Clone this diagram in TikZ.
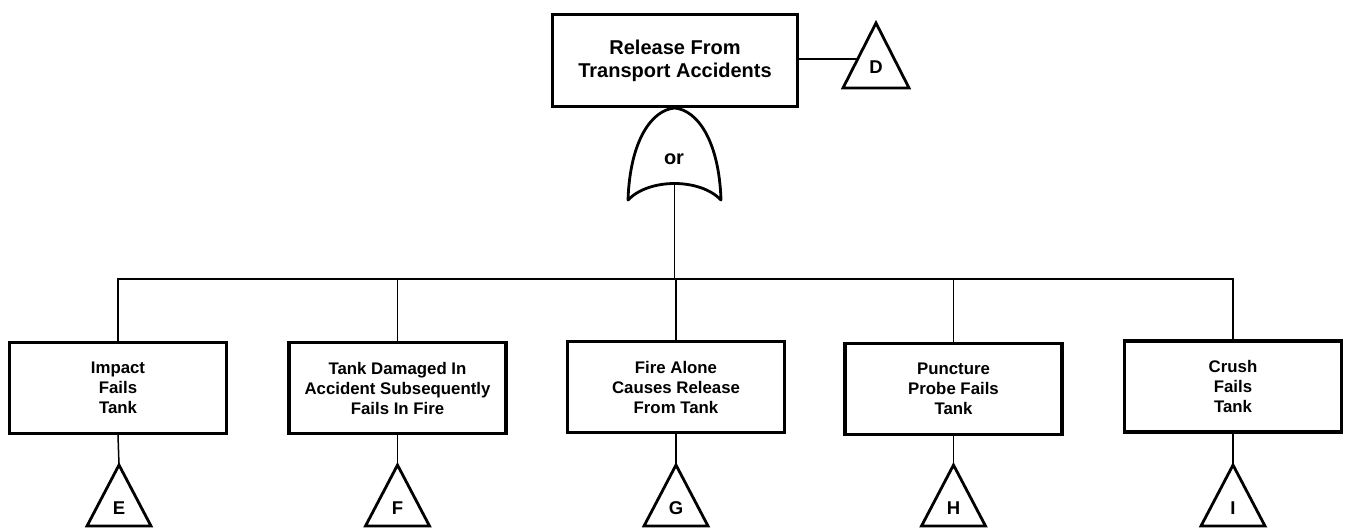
\documentclass[tikz,border=0pt]{standalone}
\usepackage{fontspec}
\setmainfont{Liberation Sans}
\begin{document}
\begin{tikzpicture}[x=1pt,y=-1pt,
  event/.style={draw, line width=3.2pt, minimum width=217pt, minimum height=91pt,
    align=center, inner sep=0pt, font=\fontsize{16.8}{20}\selectfont\bfseries},
  topevent/.style={event, minimum width=245pt, minimum height=92pt,
    font=\fontsize{20}{23}\selectfont\bfseries},
  link/.style={line width=1.5pt},
  tri/.style={line width=2.8pt, line join=miter},
  gate/.style={line width=2.8pt, line join=round, line cap=round},
  lbl/.style={inner sep=0pt, font=\fontsize{18.5}{20}\selectfont\bfseries}]
\useasboundingbox (0,0) rectangle (1349,529);

% top event and its transfer triangle
\node[topevent] (top) at (675,60.5) {Release From\\Transport Accidents};
\coordinate (aD) at (876,23);
\draw[tri] (aD) -- ++(33,65) -- ++(-66,0) -- cycle;
\node[lbl] (tD) at (876,67) {D};
\coordinate (dL) at (857,59);
\draw[link] (top.east |- dL) -- (dL);

% OR gate
\coordinate (gin) at (674.5,108);
\coordinate (gout) at (674.5,183);
\draw[gate] (628,200) .. controls (630,140) and (652,110) .. (gin)
  .. controls (697,110) and (719,140) .. (721,200)
  .. controls (700,178) and (649,178) .. (628,200) -- cycle;
\node[inner sep=0pt, font=\fontsize{20}{20}\selectfont\bfseries] (orlabel) at (674,159) {or};

% distribution bar
\coordinate (bar) at (674.5,279);
\draw[link] (gout) -- (bar);

% basic events
\node[event] (e1) at (118,388) {Impact\\Fails\\Tank};
\node[event] (e2) at (397.5,388) {Tank Damaged In\\Accident Subsequently\\Fails In Fire};
\node[event] (e3) at (676,387) {Fire Alone\\Causes Release\\From Tank};
\node[event] (e4) at (953.5,389) {Puncture\\Probe Fails\\Tank};
\node[event] (e5) at (1233,386.5) {Crush\\Fails\\Tank};

\foreach \e in {e1,e2,e3,e4,e5}
  \draw[link] (bar) -| (\e.north);

% transfer triangles below the events
\foreach \e/\t/\x in {e1/E/119, e2/F/397.5, e3/G/676, e4/H/953.5, e5/I/1233}{
  \coordinate (a\t) at (\x,465);
  \draw[tri] (a\t) -- ++(32,61) -- ++(-64,0) -- cycle;
  \node[lbl] (t\t) at (\x,508) {\t};
  \draw[link] (\e.south) -- (a\t);
}
\end{tikzpicture}
\end{document}
